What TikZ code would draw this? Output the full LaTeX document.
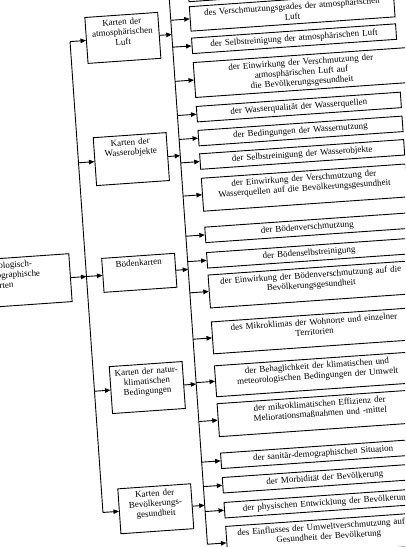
\documentclass[tikz,border=0pt]{standalone}
\usepackage{fontspec}
\setmainfont{Liberation Serif}
\usepackage{tikz}
\usetikzlibrary{arrows.meta, calc}
\tikzset{
  karte/.style = {rectangle, draw, line width=0.9pt, anchor=north west, align=center,
                  text width=69pt, inner xsep=2pt, inner ysep=3.5pt, text height=6.5pt},
  leaf/.style  = {rectangle, draw, line width=0.9pt, anchor=north west, align=center,
                  text width=200.5pt, inner xsep=2pt, inner ysep=3.5pt,
                  text height=6.5pt, text depth=2pt},
  arrow/.style = {line width=0.9pt, -{Triangle[length=5.5pt, width=4.5pt]}},
  trunk/.style = {line width=0.9pt},
}

\begin{document}
\begin{tikzpicture}[x=1pt, y=-1pt, every node/.style={font=\fontsize{9}{10}\selectfont}]

  \useasboundingbox (0,0) rectangle (405,547);
  \clip (0,0) rectangle (405,547);

  \begin{scope}[rotate around={4:(202,273)}, transform shape]

    \node[karte, align=left, text width=80pt, text depth=34.5pt] (root) at (-14,244)
      {Ökologisch-\\geographische\\Karten};

    \node[karte, text depth=32.5pt] (kLuft)   at (102.5,9.5)   {Karten der\\atmosphärischen\\Luft};
    \node[karte, text depth=34.5pt] (kWasser) at (102.5,130)   {Karten der\\Wasserobjekte};
    \node[karte, text depth=20.5pt] (kBoden)  at (102.5,251)   {Bödenkarten};
    \node[karte, text depth=33.5pt] (kKlima)  at (102.5,359.5) {Karten der natur-\\klimatischen\\Bedingungen};
    \node[karte, text depth=31.5pt] (kGesund) at (102.5,482)   {Karten der\\Bevölkerungs-\\gesundheit};

    \node[leaf] (l0) at (207.5,-14.5) {};
    \node[leaf, text depth=11pt] (l1) at (207.5,6)
      {des Verschmutzungsgrades der atmosphärischen\\Luft};
    \node[leaf] (l2) at (207.5,37.5) {der Selbstreinigung der atmosphärischen Luft};
    \node[leaf, text width=210.5pt, text depth=21.5pt] (l3) at (207.5,62)
      {der Einwirkung der Verschmutzung der\\atmosphärischen Luft auf\\die Bevölkerungsgesundheit};
    \node[leaf] (l4) at (207.5,106)   {der Wasserqualität der Wasserquellen};
    \node[leaf] (l5) at (207.5,130)   {der Bedingungen der Wassernutzung};
    \node[leaf] (l6) at (207.5,153.5) {der Selbstreinigung der Wasserobjekte};
    \node[leaf, text depth=19.5pt] (l7) at (207.5,178)
      {der Einwirkung der Verschmutzung der\\Wasserquellen auf die Bevölkerungsgesundheit};
    \node[leaf] (l8) at (207.5,227)   {der Bödenverschmutzung};
    \node[leaf] (l9) at (207.5,252.5) {der Bödenselbstreinigung};
    \node[leaf, text depth=19.5pt] (l10) at (207.5,275)
      {der Einwirkung der Bödenverschmutzung auf die\\Bevölkerungsgesundheit};
    \node[leaf, text depth=18.5pt] (l11) at (207.5,322)
      {des Mikroklimas der Wohnorte und einzelner\\Territorien};
    \node[leaf, text depth=17.5pt] (l12) at (207.5,366)
      {der Behaglichkeit der klimatischen und\\meteorologischen Bedingungen der Umwelt};
    \node[leaf, text depth=19.5pt] (l13) at (207.5,404)
      {der mikroklimatischen Effizienz der\\Meliorationsmaßnahmen und -mittel};
    \node[leaf] (l14) at (207.5,453.5) {der sanitär-demographischen Situation};
    \node[leaf] (l15) at (207.5,478)   {der Morbidität der Bevölkerung};
    \node[leaf] (l16) at (207.5,503)   {der physischen Entwicklung der Bevölkerung};
    \node[leaf, text depth=19.5pt] (l17) at (207.5,527)
      {des Einflusses der Umweltverschmutzung auf die\\Gesundheit der Bevölkerung};

    % Sammelleitungen
    \coordinate (ltop) at (86.5,0);
    \coordinate (lbot) at (86.5,540);
    \coordinate (rtop) at (188.5,-20);
    \coordinate (rbot) at (188.5,560);

    \draw[trunk] ($(ltop)!(kLuft.west)!(lbot)$) -- ($(ltop)!(kGesund.west)!(lbot)$);
    \draw[arrow] (root.east) -- ($(ltop)!(root.east)!(lbot)$);
    \draw[arrow] ($(ltop)!(kLuft.west)!(lbot)$)   -- (kLuft.west);
    \draw[arrow] ($(ltop)!(kWasser.west)!(lbot)$) -- (kWasser.west);
    \draw[arrow] ($(ltop)!(kBoden.west)!(lbot)$)  -- (kBoden.west);
    \draw[arrow] ($(ltop)!(kKlima.west)!(lbot)$)  -- (kKlima.west);
    \draw[arrow] ($(ltop)!(kGesund.west)!(lbot)$) -- (kGesund.west);

    \draw[trunk] ($(rtop)!(l0.west)!(rbot)$) -- ($(rtop)!(l17.west)!(rbot)$);
    \draw[arrow] (kLuft.east)   -- ($(rtop)!(kLuft.east)!(rbot)$);
    \draw[arrow] (kWasser.east) -- ($(rtop)!(kWasser.east)!(rbot)$);
    \draw[arrow] (kBoden.east)  -- ($(rtop)!(kBoden.east)!(rbot)$);
    \draw[arrow] (kKlima.east)  -- ($(rtop)!(kKlima.east)!(rbot)$);
    \draw[arrow] (kGesund.east) -- ($(rtop)!(kGesund.east)!(rbot)$);

    \draw[arrow] ($(rtop)!(l0.west)!(rbot)$)  -- (l0.west);
    \draw[arrow] ($(rtop)!(l1.west)!(rbot)$)  -- (l1.west);
    \draw[arrow] ($(rtop)!(l2.west)!(rbot)$)  -- (l2.west);
    \draw[arrow] ($(rtop)!(l3.west)!(rbot)$)  -- (l3.west);
    \draw[arrow] ($(rtop)!(l4.west)!(rbot)$)  -- (l4.west);
    \draw[arrow] ($(rtop)!(l5.west)!(rbot)$)  -- (l5.west);
    \draw[arrow] ($(rtop)!(l6.west)!(rbot)$)  -- (l6.west);
    \draw[arrow] ($(rtop)!(l7.west)!(rbot)$)  -- (l7.west);
    \draw[arrow] ($(rtop)!(l8.west)!(rbot)$)  -- (l8.west);
    \draw[arrow] ($(rtop)!(l9.west)!(rbot)$)  -- (l9.west);
    \draw[arrow] ($(rtop)!(l10.west)!(rbot)$) -- (l10.west);
    \draw[arrow] ($(rtop)!(l11.west)!(rbot)$) -- (l11.west);
    \draw[arrow] ($(rtop)!(l12.west)!(rbot)$) -- (l12.west);
    \draw[arrow] ($(rtop)!(l13.west)!(rbot)$) -- (l13.west);
    \draw[arrow] ($(rtop)!(l14.west)!(rbot)$) -- (l14.west);
    \draw[arrow] ($(rtop)!(l15.west)!(rbot)$) -- (l15.west);
    \draw[arrow] ($(rtop)!(l16.west)!(rbot)$) -- (l16.west);
    \draw[arrow] ($(rtop)!(l17.west)!(rbot)$) -- (l17.west);

  \end{scope}

\end{tikzpicture}
\end{document}
